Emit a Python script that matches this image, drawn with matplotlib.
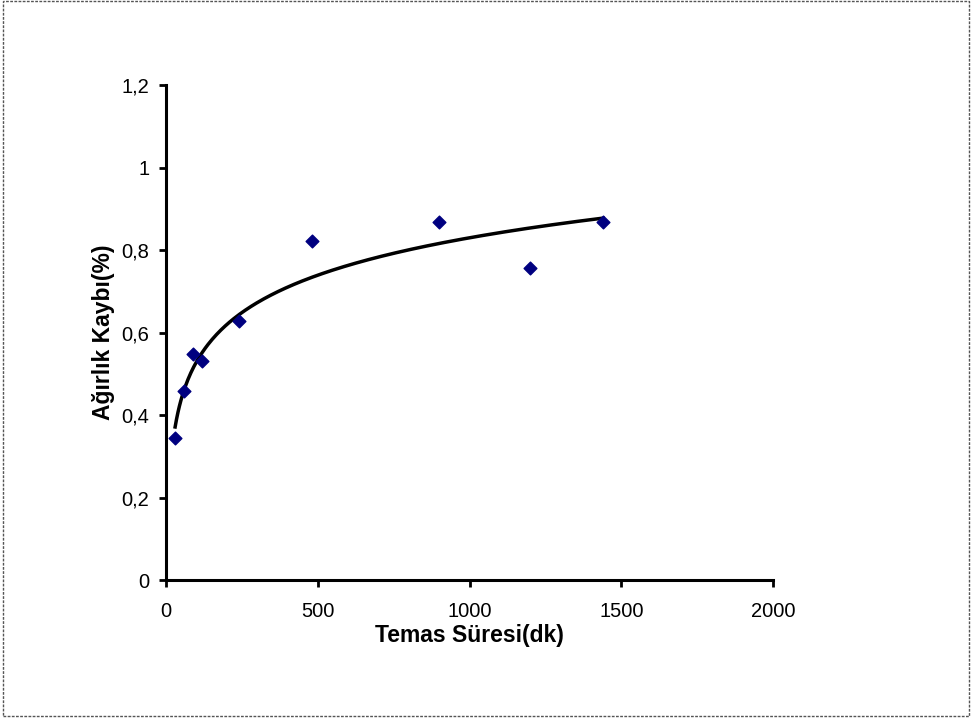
import numpy as np
import matplotlib.pyplot as plt
from matplotlib.patches import Rectangle
from matplotlib.ticker import FuncFormatter

# contact time (min) and weight loss (%)
sure = [30, 60, 90, 120, 240, 480, 900, 1200, 1440]
kayip = [0.344, 0.458, 0.548, 0.531, 0.628, 0.822, 0.868, 0.756, 0.868]

x_ticks = [0, 500, 1000, 1500, 2000]
y_ticks = [0, 0.2, 0.4, 0.6, 0.8, 1.0, 1.2]

plt.rcParams['font.family'] = ['Liberation Sans', 'DejaVu Sans']

fig = plt.figure(figsize=(9.72, 7.18), dpi=100)
fig.patches.append(Rectangle((0.003, 0.003), 0.994, 0.995, transform=fig.transFigure,
                             fill=False, edgecolor='#555555', linestyle=(0, (2, 1)), linewidth=1))

ax = fig.add_axes([0.1708, 0.1922, 0.6245, 0.6894])

# logarithmic trend line, fitted like Excel does
a, b = np.polyfit(np.log(sure), kayip, 1)
xt = np.linspace(min(sure), max(sure), 300)
ax.plot(xt, a * np.log(xt) + b, color='black', linewidth=2.5, zorder=2)

ax.scatter(sure, kayip, marker='D', s=42, color='#000080', zorder=3)

ax.set_xlim(0, 2000)
ax.set_ylim(0, 1.2)
ax.set_xticks(x_ticks)
ax.set_yticks(y_ticks)
ax.yaxis.set_major_formatter(FuncFormatter(lambda v, p: f"{v:g}".replace('.', ',')))

for s in ['top', 'right']:
    ax.spines[s].set_visible(False)
for s in ['left', 'bottom']:
    ax.spines[s].set_linewidth(2.2)
ax.tick_params(width=2, length=5, labelsize=14.5)
ax.tick_params(axis='x', pad=11)
ax.tick_params(axis='y', pad=7)

ax.set_xlabel("Temas Süresi(dk)", fontsize=16.5, fontweight='bold', labelpad=2)
ax.set_ylabel("Ağırlık Kaybı(%)", fontsize=16.5, fontweight='bold', labelpad=5)

plt.savefig('out.png', dpi=100)
